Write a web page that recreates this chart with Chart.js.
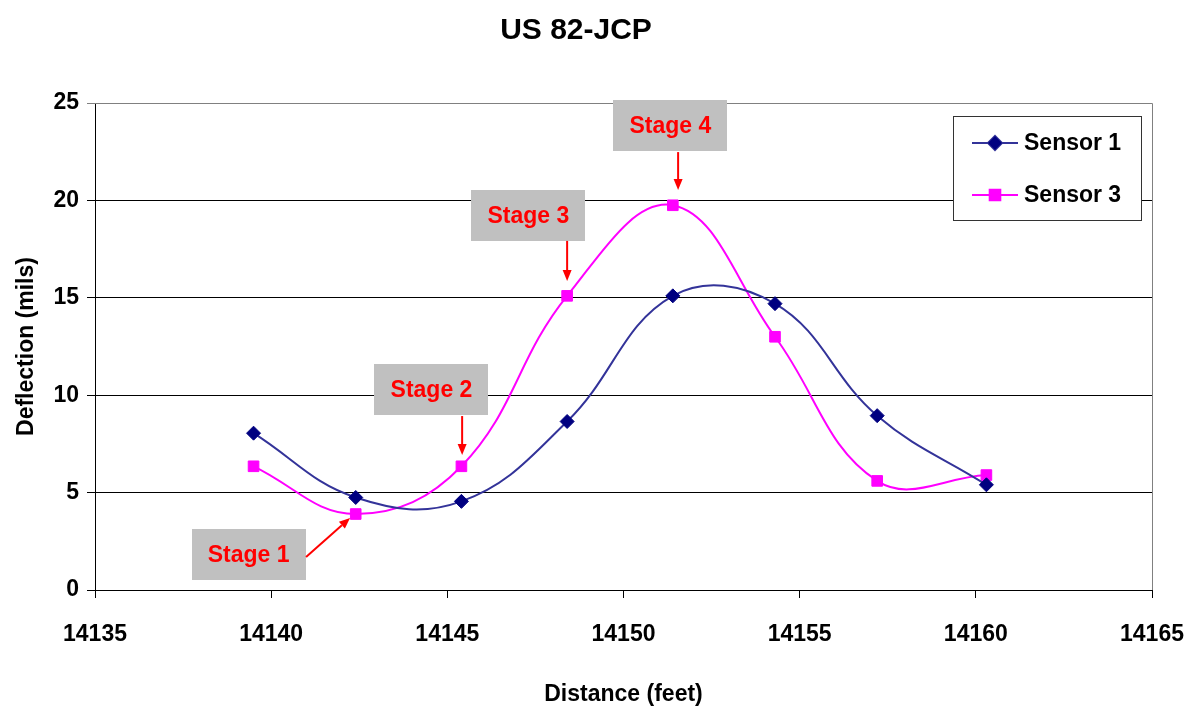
<!DOCTYPE html>
<html>
<head>
<meta charset="utf-8">
<script src="https://cdn.jsdelivr.net/npm/chart.js@4/dist/chart.umd.min.js"></script>
<style>
html,body{margin:0;padding:0;background:#fff;}
#wrap{width:1198px;height:711px;}
</style>
</head>
<body>
<div id="wrap"><canvas id="c" width="1198" height="711"></canvas></div>
<script>
// ---- data ----
const chartTitle = "US 82-JCP";
const xTitle = "Distance (feet)";
const yTitle = "Deflection (mils)";
const seriesNames = ["Sensor 1", "Sensor 3"];
const sensor1X = [14139.5, 14142.4, 14145.4, 14148.4, 14151.4, 14154.3, 14157.2, 14160.3];
const sensor1Y = [8.05, 4.75, 4.55, 8.65, 15.1, 14.7, 8.95, 5.4];
const sensor3X = [14139.5, 14142.4, 14145.4, 14148.4, 14151.4, 14154.3, 14157.2, 14160.3];
const sensor3Y = [6.35, 3.9, 6.35, 15.1, 19.75, 13.0, 5.6, 5.9];
const xTickMin = 14135, xTickMax = 14165, xTickStep = 5;
const yTickMin = 0, yTickMax = 25, yTickStep = 5;
const stageLabels = ["Stage 1", "Stage 2", "Stage 3", "Stage 4"];
// label box centres and arrow start/end, in data units
const stageBoxX = [14139.36, 14144.55, 14147.30, 14151.33];
const stageBoxY = [1.80, 10.27, 19.22, 23.82];
const arrowFromX = [14140.99, 14145.42, 14148.40, 14151.55];
const arrowFromY = [1.69, 8.93, 17.92, 22.48];
const arrowToX = [14142.24, 14145.42, 14148.40, 14151.55];
const arrowToY = [3.70, 6.93, 15.86, 20.53];

const FONT = "'Liberation Sans', Arial, sans-serif";

function pts(xs, ys){ return xs.map((x,i)=>({x:x, y:ys[i]})); }

const annotPlugin = {
  id: 'annot',
  afterDatasetsDraw(chart){
    const ctx = chart.ctx, xs = chart.scales.x, ys = chart.scales.y;
    const ca = chart.chartArea;
    ctx.save();
    // plot border (top/right) in gray
    ctx.strokeStyle = '#808080'; ctx.lineWidth = 1;
    ctx.beginPath();
    ctx.moveTo(ca.left, ca.top + 0.5); ctx.lineTo(ca.right + 0.5, ca.top + 0.5); ctx.lineTo(ca.right + 0.5, ca.bottom);
    ctx.stroke();
    // stage boxes & arrows
    const bw = 114, bh = 51;
    stageLabels.forEach((lab, i) => {
      const cx = xs.getPixelForValue(stageBoxX[i]);
      const cy = ys.getPixelForValue(stageBoxY[i]);
      ctx.fillStyle = '#C0C0C0';
      ctx.fillRect(Math.round(cx - bw/2), Math.round(cy - bh/2), bw, bh);
      ctx.fillStyle = '#FF0000';
      ctx.font = 'bold 23px ' + FONT;
      ctx.textAlign = 'center'; ctx.textBaseline = 'middle';
      ctx.fillText(lab, cx, cy + 1);
      const x1 = xs.getPixelForValue(arrowFromX[i]), y1 = ys.getPixelForValue(arrowFromY[i]);
      const x2 = xs.getPixelForValue(arrowToX[i]), y2 = ys.getPixelForValue(arrowToY[i]);
      const ang = Math.atan2(y2 - y1, x2 - x1);
      const hl = 11, hw = 4.5;
      const bx = x2 - hl * Math.cos(ang), by = y2 - hl * Math.sin(ang);
      ctx.strokeStyle = '#FF0000'; ctx.lineWidth = 2;
      ctx.beginPath(); ctx.moveTo(x1, y1); ctx.lineTo(bx, by); ctx.stroke();
      ctx.fillStyle = '#FF0000';
      ctx.beginPath();
      ctx.moveTo(x2, y2);
      ctx.lineTo(bx + hw * Math.sin(ang), by - hw * Math.cos(ang));
      ctx.lineTo(bx - hw * Math.sin(ang), by + hw * Math.cos(ang));
      ctx.closePath(); ctx.fill();
    });
    // legend
    const lx = 953, ly = 116, lw = 188, lh = 104;
    ctx.fillStyle = '#fff'; ctx.fillRect(lx, ly, lw, lh);
    ctx.strokeStyle = '#333'; ctx.lineWidth = 1;
    ctx.strokeRect(lx + 0.5, ly + 0.5, lw, lh);
    chart.data.datasets.forEach((ds, i) => {
      const yy = ly + 27 + i * 52;
      ctx.strokeStyle = ds.borderColor; ctx.lineWidth = 2;
      ctx.beginPath(); ctx.moveTo(972, yy); ctx.lineTo(1018, yy); ctx.stroke();
      Chart.helpers.drawPoint(ctx, {pointStyle: ds.pointStyle, radius: ds.pointRadius, borderWidth: 1}, 995, yy);
      ctx.fillStyle = ds.pointBackgroundColor; ctx.strokeStyle = ds.pointBorderColor;
      ctx.fill();
      ctx.fillStyle = '#000';
      ctx.font = 'bold 23px ' + FONT;
      ctx.textAlign = 'left'; ctx.textBaseline = 'middle';
      ctx.fillText(seriesNames[i], 1024, yy + 1);
    });
    ctx.restore();
  }
};

new Chart(document.getElementById('c'), {
  type: 'line',
  data: {
    datasets: [
      { label: seriesNames[0], data: pts(sensor1X, sensor1Y), borderColor: '#333399', borderWidth: 2,
        pointStyle: 'rectRot', pointRadius: 7, pointBackgroundColor: '#000080', pointBorderColor: '#000080',
        pointBorderWidth: 1, tension: 0.4, fill: false },
      { label: seriesNames[1], data: pts(sensor3X, sensor3Y), borderColor: '#FF00FF', borderWidth: 2,
        pointStyle: 'rect', pointRadius: 7.5, pointBackgroundColor: '#FF00FF', pointBorderColor: '#FF00FF',
        pointBorderWidth: 1, tension: 0.4, fill: false }
    ]
  },
  options: {
    responsive: false,
    animation: false,
    devicePixelRatio: 1,
    layout: { padding: { left: 0, right: 46, top: 0, bottom: 0 } },
    plugins: {
      legend: { display: false },
      tooltip: { enabled: false },
      title: { display: true, text: chartTitle, color: '#000',
        font: { family: FONT, size: 30, weight: 'bold', lineHeight: 1.2 },
        padding: { top: 13, bottom: 54 } }
    },
    scales: {
      x: {
        type: 'linear', min: xTickMin, max: xTickMax,
        ticks: { stepSize: xTickStep, color: '#000', padding: 23, maxRotation: 0,
          font: { family: FONT, size: 23, weight: 'bold' }, callback: v => String(v) },
        grid: { display: true, drawOnChartArea: false, drawTicks: true, tickLength: 8, color: '#000' },
        border: { display: true, color: '#000', width: 1 },
        title: { display: true, text: xTitle, color: '#000',
          font: { family: FONT, size: 23, weight: 'bold', lineHeight: 1.2 }, padding: { top: 0, bottom: 3 } },
        afterFit: s => { s.height = 121; s.paddingRight = 0; s.paddingLeft = 0; }
      },
      y: {
        type: 'linear', min: yTickMin, max: yTickMax,
        ticks: { stepSize: yTickStep, color: '#000', padding: 8,
          font: { family: FONT, size: 23, weight: 'bold' } },
        grid: { display: true, drawTicks: true, tickLength: 8,
          color: c => (c.tick && c.tick.value === yTickMax) ? '#808080' : '#000' },
        border: { display: true, color: '#000', width: 1 },
        title: { display: true, text: yTitle, color: '#000',
          font: { family: FONT, size: 23, weight: 'bold', lineHeight: 1.2 }, padding: { top: 13, bottom: 0 } },
        afterFit: s => { s.width = 95; s.paddingTop = 0; s.paddingBottom = 0; }
      }
    }
  },
  plugins: [annotPlugin]
});
</script>
</body>
</html>
